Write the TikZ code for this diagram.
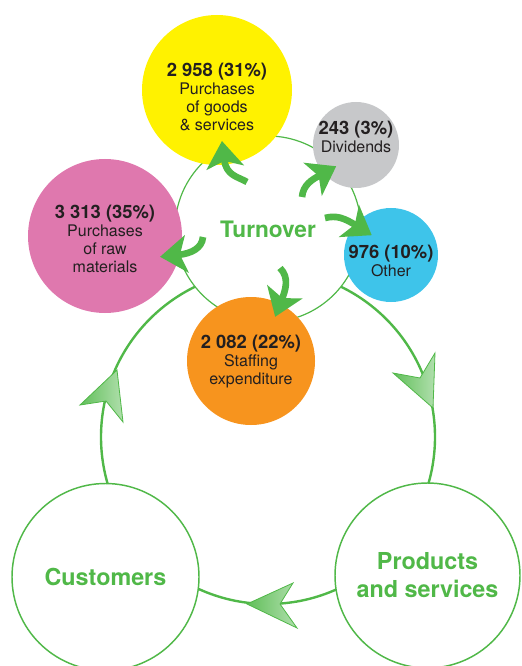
\documentclass[tikz,border=0pt]{standalone}
\usepackage{fontspec}
\setmainfont{TeX Gyre Heros}
\usetikzlibrary{arrows.meta, positioning}
\usepackage{xcolor}

\definecolor{leafgreen}{HTML}{50B848}
\definecolor{sunyellow}{HTML}{FFF200}
\definecolor{stonegray}{HTML}{C7C8CA}
\definecolor{skyblue}{HTML}{3EC4EA}
\definecolor{rosepink}{HTML}{DF78AE}
\definecolor{tangerine}{HTML}{F7941E}
\definecolor{inkdark}{HTML}{231F20}

\newcommand{\amount}[1]{{\fontsize{13.8pt}{16pt}\selectfont\bfseries #1}}

\begin{document}
\begin{tikzpicture}[
  x=0.75pt, y=-0.75pt,
  disc/.style={circle, inner sep=0pt, minimum size=#1*1.5pt},
  share/.style={align=center, text=inkdark, font=\fontsize{12pt}{13.5pt}\selectfont},
  hub/.style={disc=#1, draw=leafgreen, fill=white, line width=1.1pt,
    text=leafgreen, align=center, font=\fontsize{17.5pt}{21pt}\selectfont\bfseries},
  cycleline/.style={draw=leafgreen, line width=1.8pt},
  flow/.style={draw=leafgreen, line width=5pt, shorten >=-#1,
    -{Stealth[length=20pt, width=28pt, inset=5pt]}},
  cyclehead/.style={draw=leafgreen, line width=0.6pt,
    left color=leafgreen!90!white, right color=leafgreen!45!white}
]
\clip (0,0) rectangle (521,666);

% outer cycle
\coordinate (cyclecentre) at (268,437);
\draw[cycleline] (cyclecentre) circle[radius=167];

\node[hub=93, line width=0.9pt, font=\fontsize{17pt}{20pt}\selectfont\bfseries] (turnover) at (268,229) {Turnover};
\node[hub=93.5] (customers) at (105.5,577) {Customers};
\node[hub=92.5] (products) at (427.5,575.5) {Products\\and services};

% shares of turnover
\node[disc=75, fill=sunyellow] (goods) at (217,90) {};
\node[share] (goodstext) at (217,97) {\amount{2 958 (31\%)}\\Purchases\\of goods\\\& services};
\node[disc=43, fill=stonegray] (dividends) at (356,145) {};
\node[share] (dividendstext) at (356,137) {\amount{243 (3\%)}\\Dividends};
\node[disc=47, fill=skyblue] (other) at (391,255) {};
\node[share] (othertext) at (391,261) {\amount{976 (10\%)}\\Other};
\node[disc=77, fill=rosepink] (rawmat) at (105,236) {};
\node[share] (rawmattext) at (105,239) {\amount{3 313 (35\%)}\\Purchases\\of raw\\materials};
\node[disc=64, fill=tangerine] (staffing) at (251,361) {};
\node[share] (staffingtext) at (251,362) {\amount{2 082 (22\%)}\\Staffing\\expenditure};

% flows out of turnover
\coordinate (goodstail) at (247,182);
\coordinate (dividendstail) at (302,197);
\coordinate (othertail) at (325,218);
\coordinate (stafftail) at (280,268);
\coordinate (rawtail) at (203,237);
\draw[flow=18pt] (goodstail) to[out=150, in=-83] (goods.-84);
\draw[flow=11pt] (dividendstail) to[out=85, in=209] (dividends.221);
\draw[flow=15pt] (othertail) to[out=15, in=148] (other.140);
\draw[flow=10.5pt] (stafftail) to[out=-45, in=69] (staffing.63);
\draw[flow=15pt] (rawtail) to[out=-95, in=6] (rawmat.-14);

% heads on the outer cycle
\shade[cyclehead] (433,408) -- (393,373) -- (420,378) -- (435,353) -- cycle;
\shade[cyclehead] (247,604) -- (293,583) -- (280,604) -- (297,628) -- cycle;
\shade[cyclehead] (117,370) -- (80,405) -- (106,401) -- (123,422) -- cycle;
\end{tikzpicture}
\end{document}
